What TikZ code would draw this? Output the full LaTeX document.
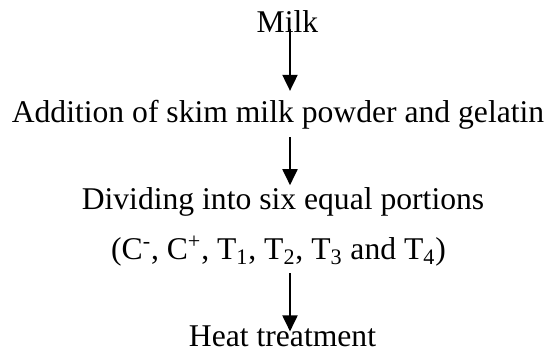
\documentclass[tikz,border=0pt]{standalone}
\usepackage{fontspec}
\setmainfont{Liberation Serif}
\usetikzlibrary{arrows.meta}

\begin{document}
\begin{tikzpicture}[
  lbl/.style={inner sep=0pt,anchor=base,font=\fontsize{18}{21}\selectfont},
  arr/.style={line width=1.1pt,-{Triangle[length=0.32cm,width=0.3cm]}}]
\useasboundingbox (0,0) rectangle (11.06,7.02);
\node[lbl] (milk) at (5.75,6.36) {Milk};
\node[lbl] (add) at (5.56,4.57) {Addition of skim milk powder and gelatin};
\node[lbl] (div) at (5.66,2.82) {Dividing into six equal portions};
\node[lbl] (grp) at (5.57,1.82) {(C\textsuperscript{-}, C\textsuperscript{+}, T\textsubscript{1}, T\textsubscript{2}, T\textsubscript{3} and T\textsubscript{4})};
\node[lbl] (heat) at (5.65,0.09) {Heat treatment};
\coordinate (ax) at (5.8,0);
% arrows
\draw[arr,shorten <=-0.08cm,shorten >=0.18cm] (milk.base -| ax) -- (add.north -| ax);
\draw[arr,shorten <=0.15cm,shorten >=0.05cm] (add.south -| ax) -- (div.north -| ax);
\draw[arr,shorten <=0.12cm,shorten >=-0.12cm] (grp.south -| ax) -- (heat.north -| ax);
\end{tikzpicture}
\end{document}
